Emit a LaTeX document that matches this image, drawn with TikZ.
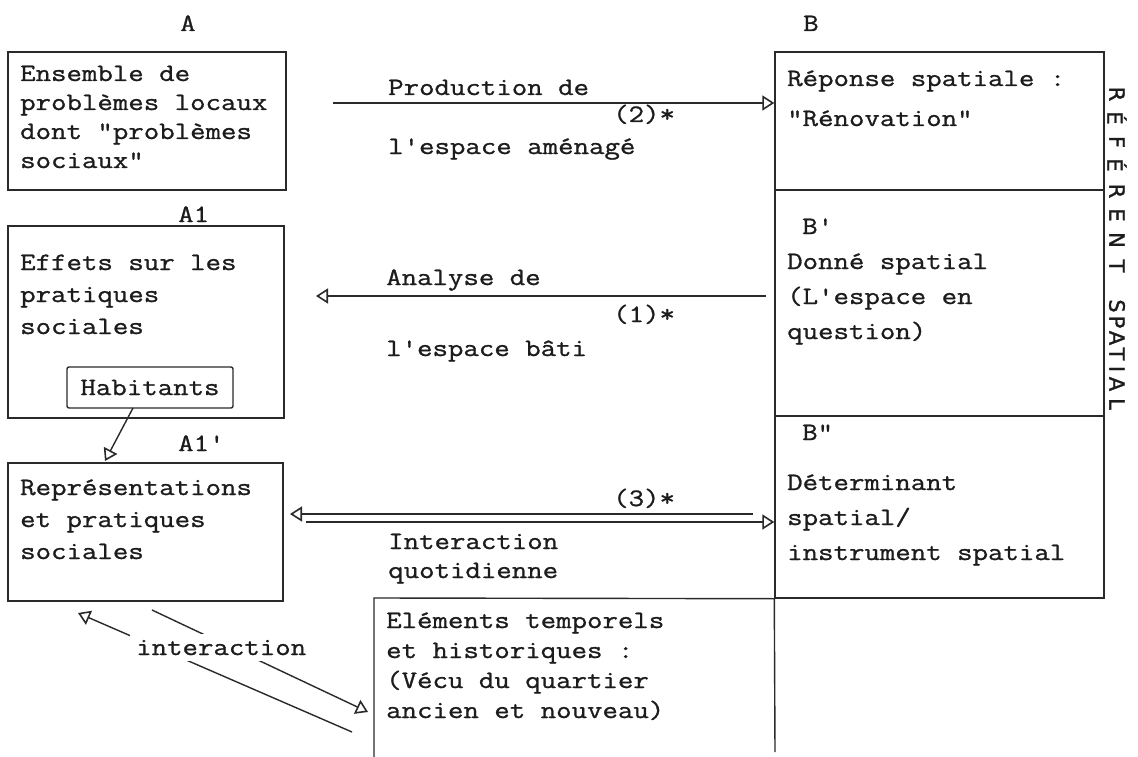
\documentclass[tikz,border=0pt]{standalone}
\usepackage{fontspec}
\setmonofont{Latin Modern Mono}[FakeStretch=1.2, FakeBold=1]
\newfontfamily\hand{DejaVu Sans}[FakeBold=1.5]
\usetikzlibrary{arrows.meta}
\definecolor{ink}{HTML}{1C1C1C}
\definecolor{pen}{HTML}{2A2A2A}
\newcommand\blk[2]{{\fontsize{25}{#1}\selectfont\begin{tabular}[t]{@{}l@{}}#2\end{tabular}}}
\begin{document}
\begin{tikzpicture}[x=1pt,y=-1pt,
  txt/.style={anchor=base west, inner sep=0pt, text=ink, font=\ttfamily\fontsize{25}{29}\selectfont},
  frame/.style={draw=pen, line width=1.4pt, inner sep=0pt},
  rule/.style={draw=pen, line width=1.4pt},
  conn/.style={draw=pen, line width=1.4pt, -{Triangle[open, length=12pt, width=15pt, line width=1.6pt]}},
  vlet/.style={inner sep=0pt, text=ink, rotate=-90, font=\hand\fontsize{21}{21}\selectfont},
]
\useasboundingbox[fill=white] (0,0) rectangle (1138,757);

% boxes
\node[frame, minimum width=278pt, minimum height=138pt] (boxA) at (147,121) {};
\node[frame, minimum width=276pt, minimum height=192pt] (boxA1) at (146,322) {};
\node[frame, minimum width=275pt, minimum height=138pt] (boxA1p) at (145.5,532) {};
\node[frame, minimum width=329pt, minimum height=546pt] (boxB) at (939.5,325) {};
\draw[rule] (boxB.west |- 0,190) -- (boxB.east |- 0,190);
\draw[rule] (boxB.west |- 0,416) -- (boxB.east |- 0,416);
\coordinate (eTL) at (374,598);
\draw[rule] (374,757) -- (eTL) -- (boxB.south west);
\draw[rule] (boxB.south west) -- (775,752);

% column labels
\node[txt] (labA) at (180,31) {A};
\node[txt] (labB) at (803,31) {B};
\node[txt] (labA1) at (178,222) {A1};
\node[txt] (labA1p) at (178,451) {A1'};
\node[txt] (labBp) at (802,234) {B'};
\node[txt] (labBpp) at (802,440) {B"};

% box texts
\node[txt] (tA) at (20,81) {\blk{29}{Ensemble de\\problèmes locaux\\dont "problèmes\\sociaux"}};
\node[txt] (tA1) at (20,270) {\blk{32}{Effets sur les\\pratiques\\sociales}};
\node[txt] (tA1p) at (20,495) {\blk{32}{Représentations\\et pratiques\\sociales}};
\node[txt] (tB) at (787,86) {\blk{40}{Réponse spatiale :\\"Rénovation"}};
\node[txt] (tBp) at (787,269) {\blk{35}{Donné spatial\\(L'espace en\\question)}};
\node[txt] (tBpp) at (787,490) {\blk{35}{Déterminant\\spatial/\\instrument spatial}};
\node[txt] (tE) at (386,628) {\blk{30}{Eléments temporels\\et historiques :\\(Vécu du quartier\\ancien et nouveau)}};

% Habitants
\node[frame, rounded corners=2pt, minimum width=166pt, minimum height=41pt, text=ink, font=\ttfamily\fontsize{25}{29}\selectfont] (hab) at (150,387.5) {Habitants};
\coordinate (habS) at (133,408);
\coordinate (habE) at (105,461);
\draw[conn] (habS) -- (habE);

% arrow (2)
\coordinate (p2s) at (333,103);
\draw[conn] (p2s) -- (p2s -| boxB.west);
\node[txt] (l2a) at (388,95) {Production de};
\node[txt] (l2n) at (613,122) {(2)*};
\node[txt] (l2b) at (388,154) {l'espace aménagé};

% arrow (1)
\coordinate (p1s) at (766,296);
\coordinate (p1e) at (316,296);
\draw[conn] (p1s) -- (p1e);
\node[txt] (l1a) at (386,285) {Analyse de};
\node[txt] (l1n) at (613,322) {(1)*};
\node[txt] (l1b) at (386,356) {l'espace bâti};

% arrow (3)
\coordinate (p3a) at (753,514);
\coordinate (p3ae) at (290,514);
\draw[conn] (p3a) -- (p3ae);
\coordinate (p3b) at (306,522);
\draw[conn] (p3b) -- (p3b -| boxB.west);
\node[txt] (l3n) at (613,506) {(3)*};
\node[txt] (l3b) at (388,549) {\blk{29}{Interaction\\quotidienne}};

% interaction arrows
\coordinate (i1s) at (152,610);
\coordinate (i1e) at (368,712);
\coordinate (i2s) at (352,732);
\coordinate (i2e) at (78,613);
\draw[conn] (i1s) -- (i1e);
\draw[conn] (i2s) -- (i2e);
\node[txt, fill=white, inner sep=6pt] (linter) at (130,655) {interaction};

% vertical text
\foreach \l/\y [count=\i] in {R/94, É/118, F/142, É/165, R/191, E/215, N/240, T/266, S/306, P/322, A/338, T/354, I/369, A/384, L/404}
  \node[vlet] (v\i) at (1117,\y) {\l};
\end{tikzpicture}
\end{document}
